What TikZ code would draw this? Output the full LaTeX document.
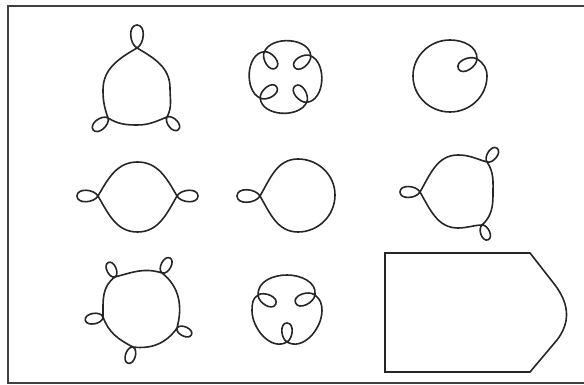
\documentclass[tikz,border=0pt]{standalone}
\usepackage{tikz}

\begin{document}
\begin{tikzpicture}[
  x=1pt, y=1pt,
  frame/.style={draw=black!75, line width=2pt},
  curve/.style={draw=black!85, line width=1.6pt, line join=round},
  loopout/.style n args={3}{insert path={to[out=#1+#3,in=#1+90] ++(#1:#2) to[out=#1-90,in=#1-#3] ++(#1+180:#2)}},
  loopin/.style n args={3}{insert path={to[out=#1-#3,in=#1-90] ++(#1:#2) to[out=#1+90,in=#1+#3] ++(#1+180:#2)}}
]
\useasboundingbox (0,0) rectangle (584,385);

\draw[frame] (584,378.5) -- (7.5,378.5) -- (7.5,1.5) -- (584,1.5);

\draw[curve] (137,337) [loopout={90}{23}{60}] to[out=210,in=90] (103,295) to[out=270,in=109] (108,267)
  [loopout={219}{19}{70}] to[out=329,in=180] (137,260) to[out=0,in=202] (167,268)
  [loopout={312}{17}{70}] to[out=62,in=270] (170,297) to[out=90,in=330] (137,337);

\begin{scope}[shift={(285.5,308)}]
\draw[curve] (40:33) foreach \a in {40,130,220,310} {[loopin={\a+175}{20}{60}] to[out=\a+55,in=\a+25] (\a+90:33)};
\end{scope}

\draw[curve] (477,326) [loopin={208}{21}{60}] to[out=88,in=0] (450,345) to[out=180,in=90] (413,309)
  to[out=270,in=180] (450,273) to[out=0,in=270] (487,309) to[out=90,in=328] (477,326);

\draw[curve] (177,189) [loopout={0}{21}{60}] to[out=120,in=0] (137.5,223) to[out=180,in=60] (98,189)
  [loopout={180}{21}{60}] to[out=300,in=180] (137.5,153) to[out=0,in=240] (177,189);

\draw[curve] (260,189) [loopout={180}{23}{60}] to[out=300,in=180] (298,153) to[out=0,in=270] (335,190)
  to[out=90,in=0] (298,226) to[out=180,in=60] (260,189);

\draw[curve] (420,193) [loopout={180}{20}{60}] to[out=300,in=180] (458,157) to[out=0,in=182] (482,160)
  [loopout={292}{16}{70}] to[out=42,in=270] (493,191) to[out=90,in=304] (487,223)
  [loopout={54}{17}{70}] to[out=164,in=0] (458,230) to[out=180,in=60] (420,193);

\draw[curve] (162,112) [loopout={62}{17}{80}] to[out=162,in=15] (115,108)
  [loopout={115}{16}{80}] to[out=215,in=90] (103,68)
  [loopout={190}{18}{80}] to[out=290,in=153] (133,38)
  [loopout={253}{17}{80}] to[out=353,in=235] (177,57)
  [loopout={335}{16}{80}] to[out=75,in=322] (162,112);

\draw[curve] (315,90) [loopin={202}{21}{60}] to[out=82,in=0] (287,110) to[out=180,in=92] (258,90)
  [loopin={332}{20}{60}] to[out=212,in=90] (252,74.5) to[out=270,in=210] (287,43)
  [loopin={90}{19}{60}] to[out=330,in=270] (322,74.5) to[out=90,in=322] (315,90);

\draw[curve, line join=miter] (385,132) -- (530,132) -- (555,100) .. controls (570,80) and (570,62) .. (557,45)
  -- (530,13) -- (385,13) -- cycle;

\end{tikzpicture}
\end{document}
